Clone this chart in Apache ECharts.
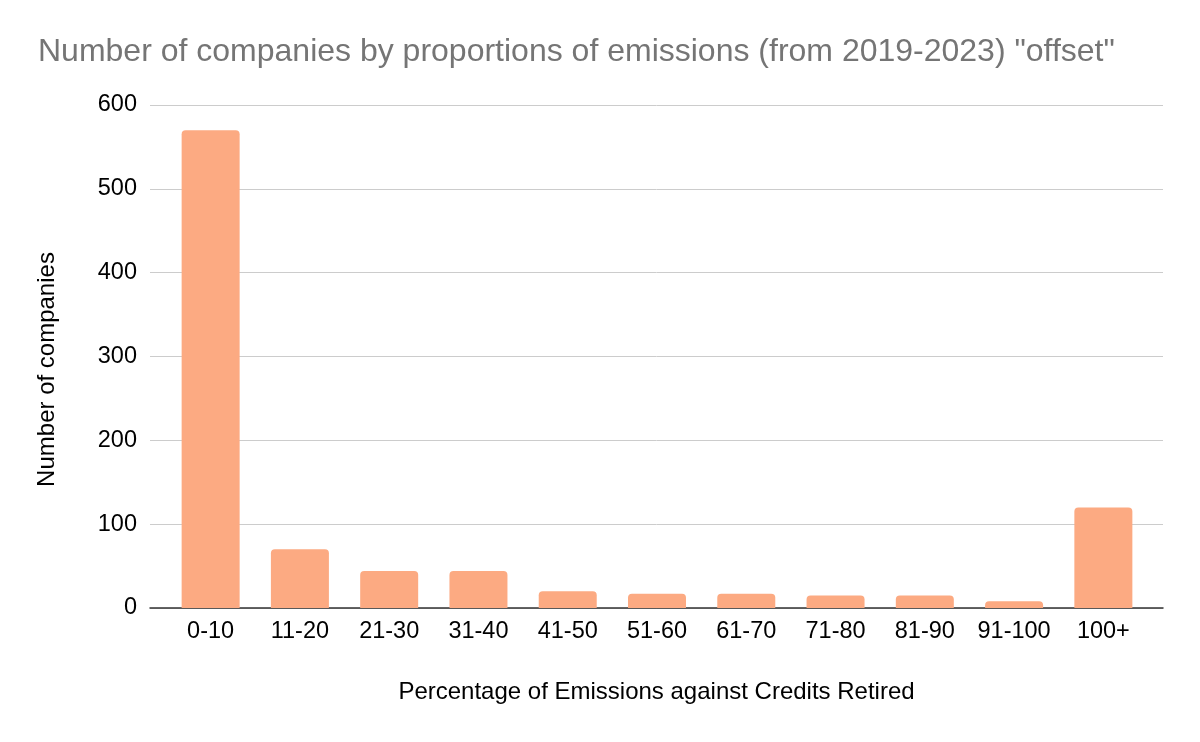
<!DOCTYPE html>
<html>
<head>
<meta charset="utf-8">
<title>Number of companies by proportions of emissions</title>
<script src="https://cdn.jsdelivr.net/npm/echarts@6/dist/echarts.min.js"></script>
<style>
html, body { margin: 0; padding: 0; background: #fff; }
#chart { width: 1200px; height: 742px; }
</style>
</head>
<body>
<div id="chart"></div>
<script>
// data
var categories = ['0-10', '11-20', '21-30', '31-40', '41-50', '51-60', '61-70', '71-80', '81-90', '91-100', '100+'];
var companies = [570, 70, 44, 44, 20, 17, 17, 15, 15, 8, 120];
var yTicks = [0, 100, 200, 300, 400, 500, 600];

var FONT = "'Liberation Sans', Arial, sans-serif";

var myChart = echarts.init(document.getElementById('chart'), null, { renderer: 'canvas' });
var option = {
    backgroundColor: '#ffffff',
    animation: false,
    textStyle: { fontFamily: FONT },
    title: {
        text: 'Number of companies by proportions of emissions (from 2019-2023) "offset"',
        left: 33,
        top: 31,
        textStyle: { color: '#757575', fontSize: 32, fontWeight: 'normal', fontFamily: FONT }
    },
    grid: [
        // wide grid: gridlines + axis line
        { left: 150, right: 37, top: 105, bottom: 134 },
        // narrower grid: bars + category labels
        { left: 166, right: 52, top: 105, bottom: 134 }
    ],
    xAxis: [
        {
            gridIndex: 0,
            type: 'category',
            data: [''],
            axisLine: { show: true, lineStyle: { color: '#333333', width: 1.5 } },
            axisTick: { show: false },
            axisLabel: { show: false },
            name: 'Percentage of Emissions against Credits Retired',
            nameLocation: 'middle',
            nameGap: 72,
            nameTextStyle: { color: '#000', fontSize: 24, fontFamily: FONT }
        },
        {
            gridIndex: 1,
            type: 'category',
            data: categories,
            axisLine: { show: false },
            axisTick: { show: false },
            axisLabel: { color: '#000', fontSize: 23.5, margin: 12, interval: 0, fontFamily: FONT }
        }
    ],
    yAxis: [
        {
            gridIndex: 0,
            type: 'value',
            min: yTicks[0],
            max: yTicks[yTicks.length - 1],
            interval: 100,
            axisLine: { show: false },
            axisTick: { show: false },
            axisLabel: { color: '#000', fontSize: 23.5, margin: 13, fontFamily: FONT },
            splitLine: { show: true, lineStyle: { color: '#cccccc', width: 1 } },
            name: 'Number of companies',
            nameLocation: 'middle',
            nameGap: 91,
            nameTextStyle: { color: '#000', fontSize: 24, fontFamily: FONT, padding: [0, 26, 0, 0] }
        },
        {
            gridIndex: 1,
            type: 'value',
            min: yTicks[0],
            max: yTicks[yTicks.length - 1],
            interval: 100,
            show: false,
            splitLine: { show: false }
        }
    ],
    series: [
        {
            name: 'Number of companies',
            type: 'bar',
            xAxisIndex: 1,
            yAxisIndex: 1,
            barWidth: 58,
            itemStyle: { color: '#fcaa82', borderRadius: [4, 4, 0, 0] },
            data: companies
        }
    ]
};
myChart.setOption(option);
</script>
</body>
</html>
